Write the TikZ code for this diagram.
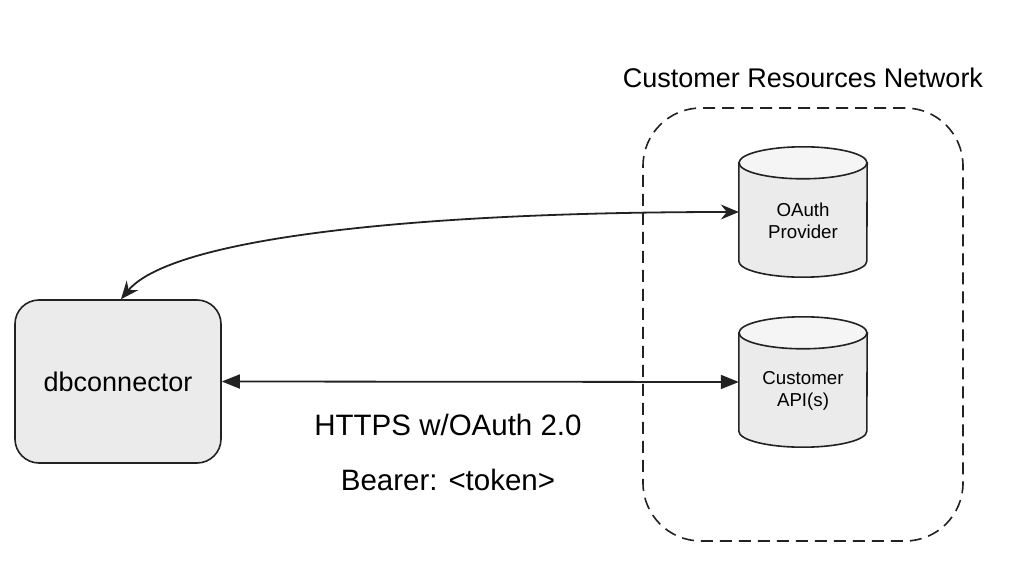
\documentclass[tikz,border=0pt]{standalone}
\usepackage{fontspec}
\setmainfont{Liberation Sans}
\usepackage{tikz}
\usetikzlibrary{arrows.meta,calc}
\definecolor{lineclr}{RGB}{34,34,34}
\definecolor{boxfill}{RGB}{235,235,235}
\definecolor{capfill}{RGB}{245,245,245}
\newcommand{\dbcyl}[3]{%
  \node[cylbox] (#1) at #2 {};
  \filldraw[cylline, fill=boxfill] ([yshift=-16pt]#1.north west) -- ([yshift=16pt]#1.south west)
    arc[start angle=180, end angle=360, x radius=64pt, y radius=16pt] -- ([yshift=-16pt]#1.north east) -- cycle;
  \filldraw[cylline, fill=capfill] ([yshift=-16pt]#1.north) ellipse [x radius=64pt, y radius=16pt];
  \node[cyltext] (#1-text) at ([yshift=-9pt]#1.center) {#3};
}

\begin{document}
\begin{tikzpicture}[x=1pt, y=1pt,
    cylbox/.style={minimum width=128pt, minimum height=130pt, inner sep=0pt},
    cylline/.style={draw=lineclr, line width=1.6pt},
    cyltext/.style={align=center, text=black, font=\fontsize{18.7}{21.7}\selectfont},
    bigtext/.style={text=black, font=\fontsize{27}{32}\selectfont},
    linktext/.style={text=black, font=\fontsize{29.5}{34}\selectfont}]
  \useasboundingbox (0,0) rectangle (1018,-580);
  \node[draw=lineclr, line width=1.6pt, fill=boxfill, rounded corners=24pt,
        minimum width=206pt, minimum height=163pt, bigtext] (dbc) at (118,-381.5) {dbconnector};
  \node[draw=lineclr, line width=1.6pt, dash pattern=on 12pt off 7pt, rounded corners=58pt,
        minimum width=320pt, minimum height=433pt] (net) at (803,-324.5) {};
  \node[bigtext] (netlabel) at (803,-78) {Customer Resources Network};
  \dbcyl{oauth}{(803,-212)}{OAuth\\Provider}
  \dbcyl{capi}{(803,-382)}{Customer\\API(s)}
  \draw[lineclr, line width=1.8pt, {Stealth[length=18pt, width=15pt, inset=6pt]}-{Stealth[length=18pt, width=15pt, inset=6pt]}]
    ([xshift=3pt]dbc.north) .. controls (170,-240) and (400,-212) .. (oauth.west);
  \draw[lineclr, line width=1.8pt, {Triangle[length=18pt, width=14pt]}-{Triangle[length=18pt, width=14pt]}]
    (dbc.east) -- (capi.west);
  \node[linktext] (https) at (448,-425) {HTTPS w/OAuth 2.0};
  \node[linktext] (bearer) at (448,-480) {Bearer: <token>};
\end{tikzpicture}
\end{document}
